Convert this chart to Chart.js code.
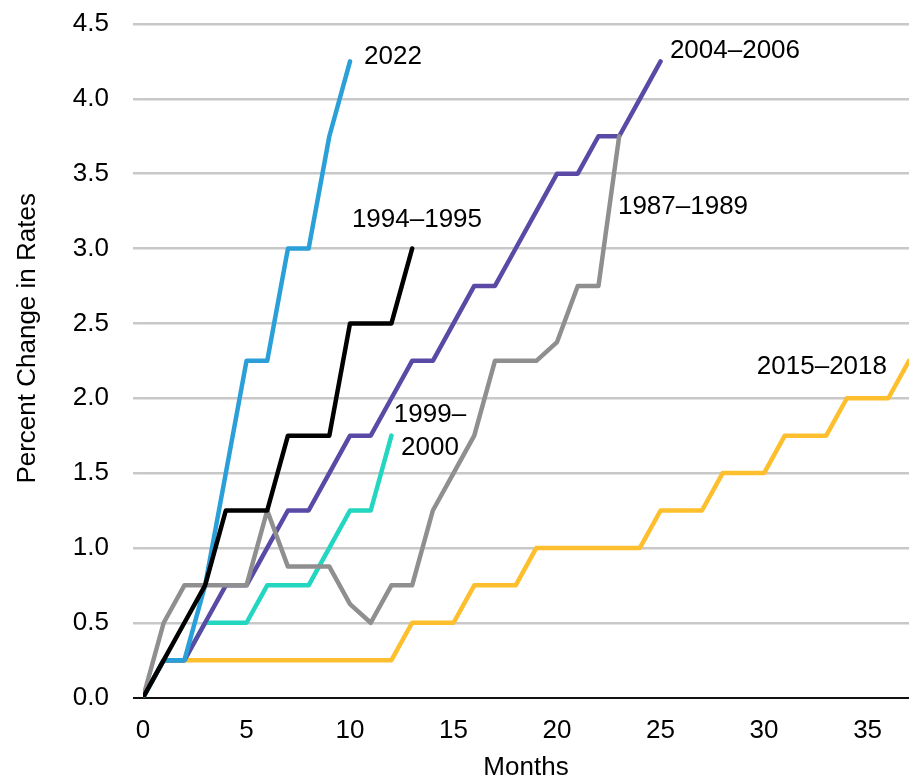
<!DOCTYPE html>
<html>
<head>
<meta charset="utf-8">
<title>Rate hiking cycles</title>
<script src="https://cdn.jsdelivr.net/npm/chart.js@4/dist/chart.umd.min.js"></script>
<style>
  html, body { margin: 0; padding: 0; background: #fff; }
  canvas { display: block; }
</style>
</head>
<body>
<canvas id="rates" width="909" height="776"></canvas>
<script>
// months since the first hike
const months = [0, 1, 2, 3, 4, 5, 6, 7, 8, 9, 10, 11, 12, 13, 14, 15, 16, 17, 18, 19,
                20, 21, 22, 23, 24, 25, 26, 27, 28, 29, 30, 31, 32, 33, 34, 35, 36, 37];

// cumulative change in rates (percentage points)
const cycle2022 = [0, 0.25, 0.25, 0.75, 1.5, 2.25, 2.25, 3.0, 3.0, 3.75, 4.25];
const cycle1994 = [0, 0.25, 0.5, 0.75, 1.25, 1.25, 1.25, 1.75, 1.75, 1.75, 2.5, 2.5, 2.5, 3.0];
const cycle2004 = [0, 0.25, 0.25, 0.5, 0.75, 0.75, 1.0, 1.25, 1.25, 1.5, 1.75, 1.75, 2.0,
                   2.25, 2.25, 2.5, 2.75, 2.75, 3.0, 3.25, 3.5, 3.5, 3.75, 3.75, 4.0, 4.25];
const cycle1987 = [0, 0.5, 0.75, 0.75, 0.75, 0.75, 1.25, 0.875, 0.875, 0.875, 0.625, 0.5,
                   0.75, 0.75, 1.25, 1.5, 1.75, 2.25, 2.25, 2.25, 2.375, 2.75, 2.75, 3.75];
const cycle1999 = [0, 0.25, 0.25, 0.5, 0.5, 0.5, 0.75, 0.75, 0.75, 1.0, 1.25, 1.25, 1.75];
const cycle2015 = [0, 0.25, 0.25, 0.25, 0.25, 0.25, 0.25, 0.25, 0.25, 0.25, 0.25, 0.25, 0.25,
                   0.5, 0.5, 0.5, 0.75, 0.75, 0.75, 1.0, 1.0, 1.0, 1.0, 1.0, 1.0,
                   1.25, 1.25, 1.25, 1.5, 1.5, 1.5, 1.75, 1.75, 1.75, 2.0, 2.0, 2.0, 2.25];

const xTicks = [0, 5, 10, 15, 20, 25, 30, 35];
const yTicks = [0, 0.5, 1.0, 1.5, 2.0, 2.5, 3.0, 3.5, 4.0, 4.5];

// series names, written next to the lines (anchor in data units)
const seriesLabels = [
  { text: '2022',      x: 10.68, y: 4.28, align: 'left' },
  { text: '1994–1995', x: 10.09, y: 3.19, align: 'left' },
  { text: '2004–2006', x: 25.45, y: 4.32, align: 'left' },
  { text: '1987–1989', x: 22.94, y: 3.28, align: 'left' },
  { text: '1999–',     x: 13.86, y: 1.89, align: 'center' },
  { text: '2000',      x: 13.86, y: 1.67, align: 'center' },
  { text: '2015–2018', x: 29.65, y: 2.21, align: 'left' }
];

const yTitle = 'Percent Change in Rates';
const xTitle = 'Months';

const FONT = "'Liberation Sans', Arial, sans-serif";
Chart.defaults.font.family = FONT;
Chart.defaults.font.size = 26;
Chart.defaults.color = '#000';

function toPoints(values) {
  return values.map((v, i) => ({ x: months[i], y: v }));
}

function series(label, values, color) {
  return {
    label: label,
    data: toPoints(values),
    borderColor: color,
    backgroundColor: color,
    borderWidth: 4.5,
    pointRadius: 0,
    tension: 0,
    borderCapStyle: 'round',
    borderJoinStyle: 'round'
  };
}

// draws the series names and the rotated y title
const textPlugin = {
  id: 'textLabels',
  afterDraw(chart) {
    const ctx = chart.ctx;
    const xs = chart.scales.x, ys = chart.scales.y;
    ctx.save();
    ctx.fillStyle = '#000';
    ctx.font = '26px ' + FONT;
    ctx.textBaseline = 'middle';
    seriesLabels.forEach(l => {
      ctx.textAlign = l.align;
      ctx.fillText(l.text, xs.getPixelForValue(l.x), ys.getPixelForValue(l.y));
    });
    // y axis title
    ctx.translate(28, ys.getPixelForValue(2.4));
    ctx.rotate(-Math.PI / 2);
    ctx.textAlign = 'center';
    ctx.fillText(yTitle, 0, 0);
    ctx.restore();
  }
};

new Chart(document.getElementById('rates'), {
  type: 'line',
  data: {
    datasets: [
      series('1994–1995', cycle1994, '#000000'),
      series('1987–1989', cycle1987, '#8f8f8f'),
      series('2022', cycle2022, '#2a9fd8'),
      series('2004–2006', cycle2004, '#5a4aa6'),
      series('1999–2000', cycle1999, '#22d6c0'),
      series('2015–2018', cycle2015, '#fdbf2d')
    ]
  },
  options: {
    responsive: false,
    animation: false,
    layout: { padding: { top: 24, right: 0, bottom: 0, left: 0 } },
    plugins: {
      legend: { display: false },
      tooltip: { enabled: false }
    },
    scales: {
      x: {
        type: 'linear',
        min: 0,
        max: 37,
        afterBuildTicks: scale => { scale.ticks = xTicks.map(v => ({ value: v })); },
        afterFit: scale => { scale.paddingLeft = 0; scale.paddingRight = 0; },
        grid: { display: false, drawTicks: false },
        border: { display: false },
        ticks: { padding: 18, font: { size: 26 }, color: '#000', maxRotation: 0 },
        title: {
          display: true,
          text: xTitle,
          font: { size: 26 },
          color: '#000',
          padding: { top: -13, bottom: -7 }
        }
      },
      y: {
        min: 0,
        max: 4.5,
        afterBuildTicks: scale => { scale.ticks = yTicks.map(v => ({ value: v })); },
        afterFit: scale => { scale.width = 143; scale.paddingTop = 0; scale.paddingBottom = 0; },
        grid: {
          color: ctx => (ctx.tick && ctx.tick.value === 0) ? '#111' : '#c8c8c8',
          lineWidth: ctx => (ctx.tick && ctx.tick.value === 0) ? 2 : 2.5,
          drawTicks: true,
          tickLength: 10
        },
        border: { display: false },
        ticks: {
          padding: 24,
          font: { size: 26 },
          color: '#000',
          callback: v => Number(v).toFixed(1)
        }
      }
    }
  },
  plugins: [textPlugin]
});
</script>
</body>
</html>
